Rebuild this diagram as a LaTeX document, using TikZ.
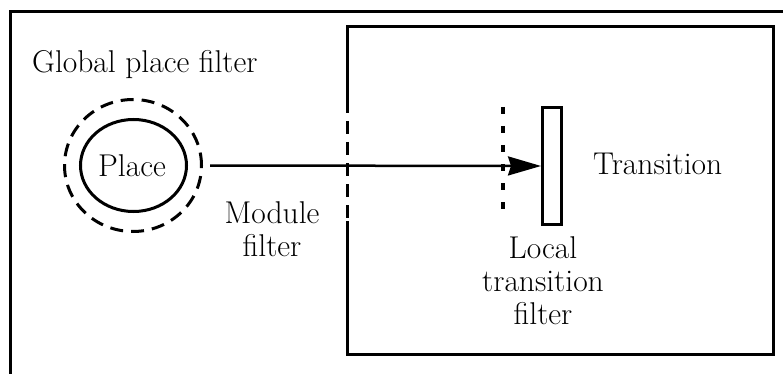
\documentclass[tikz,border=0pt]{standalone}
\usetikzlibrary{shapes.geometric,arrows.meta}
\begin{document}
\begin{tikzpicture}[x=1pt,y=-1pt,
  lbl/.style={inner sep=0pt,font=\fontsize{31.5}{33}\selectfont},
  frame/.style={line width=3pt},
  placenode/.style={ellipse,draw,line width=3pt,minimum width=106pt,minimum height=92pt,inner sep=0pt},
  filterring/.style={ellipse,draw,line width=3pt,dash pattern=on 13pt off 8pt,minimum width=137pt,minimum height=132pt,inner sep=0pt},
  transbox/.style={rectangle,draw,line width=3pt,minimum width=19pt,minimum height=117pt,inner sep=0pt},
  arc/.style={line width=2.5pt,-{Stealth[length=33pt,width=19pt,inset=3pt]}}
]
\useasboundingbox (0,0) rectangle (783,374);
% outer frame (cut at right and bottom)
\draw[frame] (10.5,374) -- (10.5,11.5) -- (783,11.5);
% module box
\coordinate (mtl) at (347,27);
\coordinate (mtr) at (773,27);
\coordinate (mbr) at (773,354);
\coordinate (mbl) at (347,354);
\coordinate (gapt) at (347,100);
\coordinate (gapb) at (347,221);
\draw[frame] (gapt) -- (mtl) -- (mtr) -- (mbr) -- (mbl) -- (gapb);
\draw[line width=3pt,dash pattern=on 13pt off 8pt] (gapt) -- (gapb);
% place and global filter
\node[filterring] (gpf) at (133,165.5) {};
\node[placenode] (place) at (133.5,165.5) {};
\node[lbl] (placelbl) at (132,166) {Place};
\node[lbl,anchor=base west] (gpflbl) at (32,73) {Global place filter};
% transition
\node[transbox] (trans) at (552,166) {};
\coordinate (ltft) at (503,107);
\coordinate (ltfb) at (503,220);
\draw[line width=4pt,dash pattern=on 7pt off 12pt] (ltft) -- (ltfb);
\node[lbl,anchor=base west] (translbl) at (593,175) {Transition};
% arc
\draw[arc] ([xshift=7pt]gpf.east) -- (trans.west);
% filter labels
\node[lbl,align=center] (modlbl) at (272,229) {Module\\filter};
\node[lbl,align=center] (ltflbl) at (543,281) {Local\\transition\\filter};
\end{tikzpicture}
\end{document}
